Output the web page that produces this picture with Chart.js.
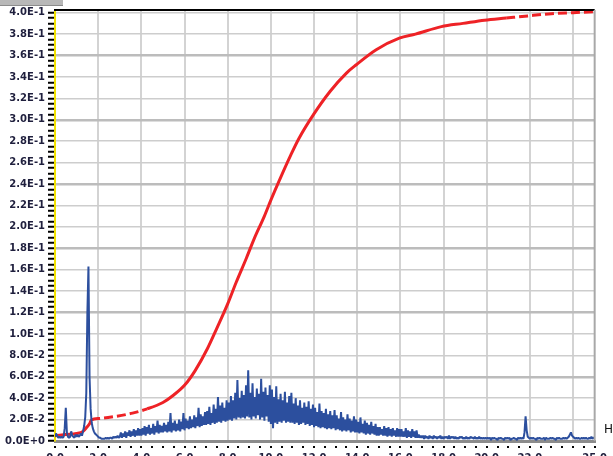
<!DOCTYPE html>
<html>
<head>
<meta charset="utf-8">
<script src="https://cdn.jsdelivr.net/npm/chart.js@4/dist/chart.umd.min.js"></script>
<style>
  html, body { margin: 0; padding: 0; background: #fff; overflow: hidden; width: 613px; height: 456px; }
  #wrap { position: relative; width: 613px; height: 456px; overflow: hidden; }
  canvas { position: absolute; left: 0; top: 0; }
  #tab { position: absolute; left: 0; top: 0; width: 63px; height: 5px; background: #b8b8b8; border-bottom: 1px solid #8c8c8c; }
  #unit { position: absolute; left: 604px; top: 422px; font: 12px "DejaVu Sans", sans-serif; color: #111; white-space: nowrap; }
</style>
</head>
<body>
<div id="wrap">
  <canvas id="c" width="613" height="471"></canvas>
  <div id="tab"></div>
  <div id="unit">Hz</div>
</div>
<script>
// Frequency axis: labelled values, gridline values, minor tick spacing (Hz)
const xLabelValues = [0, 2, 4, 6, 8, 10, 12, 14, 16, 18, 20, 22, 25];
const xGridValues = [2, 4, 6, 8, 10, 12, 14, 16, 18, 20, 22, 24];
const xMinorStep = 0.5;
const xMax = 25;

// Amplitude axis: labelled values and minor tick spacing
const yLabelValues = [0, 0.02, 0.04, 0.06, 0.08, 0.10, 0.12, 0.14, 0.16, 0.18, 0.20,
                      0.22, 0.24, 0.26, 0.28, 0.30, 0.32, 0.34, 0.36, 0.38, 0.40];
const yStrongGrid = [0.06, 0.12, 0.18, 0.24, 0.30, 0.36];
const yMinorStep = 0.005;
const yMax = 0.4025;

// Spectrum amplitude, sampled every 0.05 Hz
const binHz = 0.05;
const amp0to5 = [
  0.004, 0.007, 0.005, 0.003, 0.004, 0.003, 0.004, 0.003, 0.004, 0.012, 0.031, 0.008, 0.004, 0.003, 0.004, 0.009, 0.005, 0.004, 0.003, 0.006,
  0.004, 0.006, 0.004, 0.005, 0.007, 0.005, 0.009, 0.014, 0.022, 0.045, 0.120, 0.163, 0.060, 0.030, 0.017, 0.012, 0.009, 0.007, 0.006, 0.005,
  0.004, 0.003, 0.003, 0.002, 0.002, 0.002, 0.002, 0.003, 0.002, 0.003, 0.002, 0.003, 0.003, 0.002, 0.004, 0.003, 0.004, 0.003, 0.005, 0.003,
  0.004, 0.008, 0.003, 0.007, 0.004, 0.009, 0.003, 0.008, 0.005, 0.010, 0.004, 0.009, 0.005, 0.011, 0.004, 0.010, 0.005, 0.012, 0.005, 0.011,
  0.005, 0.012, 0.006, 0.014, 0.005, 0.013, 0.007, 0.015, 0.006, 0.012, 0.007, 0.016, 0.006, 0.014, 0.008, 0.019, 0.007, 0.015, 0.008, 0.014
];
const amp5to10 = [
  0.008, 0.017, 0.009, 0.015, 0.008, 0.018, 0.009, 0.026, 0.008, 0.017, 0.010, 0.019, 0.009, 0.016, 0.010, 0.020, 0.009, 0.018, 0.011, 0.026,
  0.010, 0.021, 0.012, 0.019, 0.011, 0.023, 0.012, 0.020, 0.013, 0.024, 0.012, 0.022, 0.014, 0.031, 0.013, 0.025, 0.014, 0.023, 0.015, 0.027,
  0.015, 0.028, 0.016, 0.032, 0.015, 0.026, 0.017, 0.034, 0.016, 0.030, 0.017, 0.041, 0.018, 0.033, 0.017, 0.036, 0.019, 0.031, 0.018, 0.038,
  0.019, 0.036, 0.020, 0.042, 0.019, 0.038, 0.021, 0.045, 0.020, 0.057, 0.022, 0.040, 0.021, 0.047, 0.022, 0.043, 0.021, 0.052, 0.023, 0.066,
  0.022, 0.045, 0.020, 0.054, 0.023, 0.041, 0.021, 0.049, 0.024, 0.044, 0.020, 0.058, 0.022, 0.046, 0.019, 0.050, 0.023, 0.043, 0.018, 0.052
];
const amp10to15 = [
  0.016, 0.048, 0.012, 0.041, 0.017, 0.051, 0.016, 0.039, 0.018, 0.044, 0.017, 0.038, 0.019, 0.046, 0.017, 0.036, 0.018, 0.042, 0.017, 0.045,
  0.017, 0.035, 0.016, 0.040, 0.017, 0.033, 0.015, 0.038, 0.016, 0.031, 0.017, 0.036, 0.015, 0.032, 0.016, 0.037, 0.014, 0.030, 0.015, 0.034,
  0.013, 0.031, 0.014, 0.027, 0.013, 0.035, 0.012, 0.028, 0.013, 0.026, 0.012, 0.030, 0.011, 0.025, 0.012, 0.028, 0.011, 0.024, 0.012, 0.029,
  0.010, 0.024, 0.011, 0.021, 0.010, 0.027, 0.009, 0.022, 0.010, 0.020, 0.009, 0.025, 0.010, 0.021, 0.008, 0.019, 0.009, 0.023, 0.008, 0.020,
  0.008, 0.018, 0.007, 0.022, 0.008, 0.016, 0.007, 0.019, 0.006, 0.017, 0.007, 0.015, 0.006, 0.018, 0.007, 0.014, 0.006, 0.016, 0.005, 0.013
];
const amp15to20 = [
  0.005, 0.013, 0.006, 0.011, 0.005, 0.014, 0.005, 0.012, 0.004, 0.013, 0.005, 0.011, 0.004, 0.012, 0.005, 0.010, 0.004, 0.012, 0.004, 0.011,
  0.004, 0.011, 0.004, 0.009, 0.004, 0.012, 0.003, 0.010, 0.004, 0.009, 0.003, 0.011, 0.004, 0.009, 0.003, 0.010, 0.003, 0.006, 0.003, 0.005,
  0.003, 0.005, 0.002, 0.005, 0.003, 0.004, 0.002, 0.005, 0.003, 0.004, 0.002, 0.005, 0.003, 0.004, 0.002, 0.004, 0.003, 0.005, 0.002, 0.004,
  0.002, 0.004, 0.003, 0.004, 0.002, 0.005, 0.002, 0.004, 0.003, 0.004, 0.002, 0.004, 0.002, 0.003, 0.002, 0.004, 0.003, 0.004, 0.002, 0.003,
  0.002, 0.004, 0.002, 0.003, 0.002, 0.004, 0.003, 0.003, 0.002, 0.004, 0.002, 0.003, 0.002, 0.004, 0.002, 0.003, 0.002, 0.003, 0.002, 0.003
];
const amp20to25 = [
  0.002, 0.003, 0.002, 0.003, 0.001, 0.003, 0.002, 0.003, 0.002, 0.002, 0.001, 0.003, 0.002, 0.003, 0.002, 0.002, 0.001, 0.003, 0.002, 0.003,
  0.002, 0.003, 0.001, 0.002, 0.002, 0.003, 0.002, 0.002, 0.001, 0.003, 0.002, 0.003, 0.002, 0.003, 0.002, 0.008, 0.023, 0.010, 0.004, 0.003,
  0.002, 0.003, 0.002, 0.003, 0.002, 0.002, 0.001, 0.003, 0.002, 0.003, 0.002, 0.002, 0.002, 0.003, 0.001, 0.003, 0.002, 0.002, 0.002, 0.003,
  0.002, 0.003, 0.002, 0.002, 0.001, 0.003, 0.002, 0.003, 0.002, 0.002, 0.002, 0.003, 0.002, 0.003, 0.002, 0.003, 0.004, 0.006, 0.008, 0.005,
  0.004, 0.003, 0.002, 0.003, 0.002, 0.003, 0.002, 0.002, 0.003, 0.002, 0.003, 0.002, 0.003, 0.002, 0.002, 0.003, 0.002, 0.004, 0.002, 0.003,
  0.003
];

// Cumulative curve: frequency (Hz) and accumulated value
const cumHz = [0, 0.5, 1.0, 1.3, 1.48, 1.6, 1.68, 2.06, 2.82, 3.59, 4.27, 5.0, 5.5, 6.0, 6.5,
               7.07, 7.48, 8.0, 8.39, 8.85, 9.23, 9.69, 10.0, 10.45, 10.91, 11.3, 11.98, 12.74,
               13.5, 13.96, 14.88, 15.95, 16.7, 17.9, 18.9, 19.9, 20.9, 21.9, 23.0, 24.0, 25.0];
const cumValue = [0.005, 0.006, 0.007, 0.009, 0.013, 0.016, 0.0196, 0.021, 0.023, 0.026, 0.030, 0.036, 0.043, 0.052, 0.066,
                  0.0866, 0.1045, 0.128, 0.148, 0.170, 0.189, 0.2096, 0.225, 0.246, 0.2665, 0.2825, 0.305, 0.3264,
                  0.3436, 0.3514, 0.3654, 0.3762, 0.380, 0.387, 0.390, 0.393, 0.395, 0.397, 0.399, 0.400, 0.401];

const amplitude = [].concat(amp0to5, amp5to10, amp10to15, amp15to20, amp20to25);
const spectrumPts = amplitude.map((v, i) => ({ x: Math.round(i * binHz * 100) / 100, y: v }));
const cumPts = cumHz.map((x, i) => ({ x: x, y: cumValue[i] }));

const near = (arr, v, eps) => arr.some(a => Math.abs(a - v) < eps);
const sciLabel = v => v.toExponential(1).toUpperCase();

const labelFont = { family: '"DejaVu Sans", sans-serif', size: 10, weight: 'bold' };
const labelColor = '#1f1f3d';

// Frame: black top edge, grey right edge, dotted ticks under the frequency axis
const framePlugin = {
  id: 'frame',
  afterDraw(chart) {
    const { ctx, chartArea: a, scales } = chart;
    ctx.save();
    ctx.fillStyle = '#000';
    ctx.fillRect(a.left - 1, a.top - 1, a.right - a.left + 1, 2);
    ctx.fillStyle = '#a8a8a8';
    ctx.fillRect(a.right - 1, a.top, 2, a.bottom - a.top);
    ctx.fillStyle = '#000';
    scales.x.ticks.forEach(t => {
      const px = Math.round(scales.x.getPixelForValue(t.value));
      ctx.fillRect(px - 1, a.bottom + 5, 2, 2);
    });
    ctx.restore();
  }
};

new Chart(document.getElementById('c'), {
  type: 'line',
  data: {
    datasets: [
      {
        label: 'Spectrum',
        data: spectrumPts,
        borderColor: '#2c4f9e',
        borderWidth: 2,
        borderJoinStyle: 'bevel',
        pointRadius: 0,
        tension: 0,
        order: 0
      },
      {
        label: 'Cumulative',
        data: cumPts,
        borderColor: '#ee2226',
        borderWidth: 3,
        pointRadius: 0,
        cubicInterpolationMode: 'monotone',
        order: 1,
        segment: {
          borderDash: c => {
            const x0 = c.p0.parsed.x, x1 = c.p1.parsed.x;
            if ((x0 >= 1.68 && x1 <= 4.3) || x0 >= 20.9) return [9, 4];
            return undefined;
          }
        }
      }
    ]
  },
  options: {
    responsive: false,
    animation: false,
    events: [],
    layout: { padding: { top: 10, right: 12, left: 0, bottom: 0 } },
    plugins: { legend: { display: false }, tooltip: { enabled: false }, title: { display: false } },
    scales: {
      x: {
        type: 'linear',
        min: 0,
        max: xMax,
        afterBuildTicks: s => {
          const n = Math.round(xMax / xMinorStep);
          s.ticks = [];
          for (let i = 0; i <= n; i++) s.ticks.push({ value: Math.round(i * xMinorStep * 10) / 10 });
        },
        afterFit: s => { s.height = 30; },
        ticks: {
          autoSkip: false,
          maxRotation: 0,
          padding: 6,
          font: labelFont,
          color: labelColor,
          callback: v => near(xLabelValues, v, 1e-6) ? v.toFixed(1) : ''
        },
        grid: {
          drawTicks: true,
          tickLength: 5,
          tickColor: 'rgba(0,0,0,0)',
          color: c => (c.tick && near(xGridValues, c.tick.value, 1e-6)) ? '#d3d3d3' : 'rgba(0,0,0,0)',
          lineWidth: 2
        },
        border: { display: true, color: '#8c8c8c', width: 3 }
      },
      y: {
        type: 'linear',
        min: 0,
        max: yMax,
        afterBuildTicks: s => {
          const n = Math.round(0.4 / yMinorStep);
          s.ticks = [];
          for (let i = 0; i <= n; i++) s.ticks.push({ value: Math.round(i * yMinorStep * 1000) / 1000 });
        },
        afterFit: s => { s.width = 55; },
        ticks: {
          autoSkip: false,
          padding: 3,
          font: labelFont,
          color: labelColor,
          callback: v => near(yLabelValues, v, 1e-6) ? sciLabel(v) : ''
        },
        grid: {
          drawTicks: true,
          tickLength: 7,
          tickWidth: 2,
          tickColor: '#000',
          color: c => {
            if (!c.tick || c.tick.value === 0 || !near(yLabelValues, c.tick.value, 1e-6)) return 'rgba(0,0,0,0)';
            return near(yStrongGrid, c.tick.value, 1e-6) ? '#bcbcbc' : '#cdcdcd';
          },
          lineWidth: c => (c.tick && near(yStrongGrid, c.tick.value, 1e-6)) ? 2.5 : 1.5
        },
        border: { display: true, color: '#f2e200', width: 2 }
      }
    }
  },
  plugins: [framePlugin]
});
</script>
</body>
</html>
